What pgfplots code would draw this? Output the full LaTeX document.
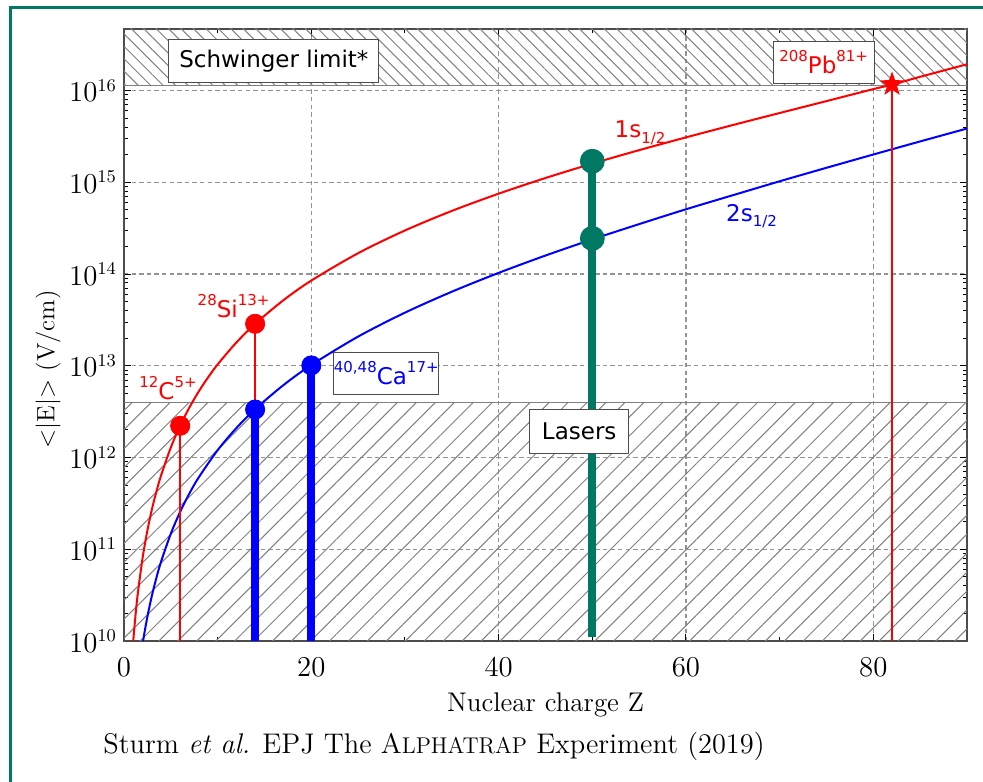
\documentclass[border=0pt]{standalone}
\usepackage{pgfplots}
\pgfplotsset{compat=1.18}
\usepackage{fontspec}
\newfontfamily\dv{DejaVu Sans}
\usetikzlibrary{patterns.meta}
\definecolor{teal2}{RGB}{0,120,100}
\newcommand\sps[1]{{\fontsize{7.5}{8}\selectfont\raisebox{6.2pt}{#1}}}
\newcommand\sbs[1]{{\fontsize{7.5}{8}\selectfont\raisebox{-2.6pt}{#1}}}
\pgfdeclareplotmark{fstar}{%
  \pgfpathmoveto{\pgfpointpolar{90}{\pgfplotmarksize}}%
  \pgfpathlineto{\pgfpointpolar{126}{0.4\pgfplotmarksize}}%
  \pgfpathlineto{\pgfpointpolar{162}{\pgfplotmarksize}}%
  \pgfpathlineto{\pgfpointpolar{198}{0.4\pgfplotmarksize}}%
  \pgfpathlineto{\pgfpointpolar{234}{\pgfplotmarksize}}%
  \pgfpathlineto{\pgfpointpolar{270}{0.4\pgfplotmarksize}}%
  \pgfpathlineto{\pgfpointpolar{306}{\pgfplotmarksize}}%
  \pgfpathlineto{\pgfpointpolar{342}{0.4\pgfplotmarksize}}%
  \pgfpathlineto{\pgfpointpolar{18}{\pgfplotmarksize}}%
  \pgfpathlineto{\pgfpointpolar{54}{0.4\pgfplotmarksize}}%
  \pgfpathclose\pgfusepathqfill}
\begin{document}
\begin{tikzpicture}
\useasboundingbox (-62pt,-70pt) rectangle (429.5pt,320.5pt);
\draw[teal2, line width=1.5pt] (-56.5pt,-100pt) -- (-56.5pt,316.5pt) -- (460pt,316.5pt);
\begin{axis}[
  width=421.5pt, height=306pt, scale only axis,
  xmin=0, xmax=90, ymode=log, ymin=1e10, ymax=4.7e16,
  xtick={0,20,40,60,80}, minor xtick={10,30,50,70},
  ytick={1e10,1e11,1e12,1e13,1e14,1e15,1e16},
  xtick pos=both, ytick pos=both, xticklabel pos=lower, yticklabel pos=left,
  tick align=inside,
  major tick length=3.5pt, minor tick length=2pt,
  every tick/.style={black, line width=0.5pt},
  axis line style={draw=black!70, line width=1pt},
  grid=major,
  major grid style={dash pattern=on 2.2pt off 1.6pt, gray!85, line width=0.65pt},
  ticklabel style={font=\fontsize{13.5}{15}\selectfont},
  xticklabel style={yshift=-5pt},
  xlabel={Nuclear charge Z},
  ylabel={<|E|> (V/cm)},
  xlabel style={font=\fontsize{13.5}{15}\selectfont, yshift=-1pt},
  ylabel style={font=\fontsize{12.5}{14}\selectfont, at={(axis description cs:-0.09,0.444)}, anchor=center},
]
% hatched regions
\addplot[draw=gray, line width=0.5pt, pattern={Lines[angle=45,distance=6.7pt,line width=0.5pt]}, pattern color=gray]
  coordinates {(-5,1e9) (-5,4e12) (95,4e12) (95,1e9) (-5,1e9)};
\addplot[draw=gray, line width=0.5pt, pattern={Lines[angle=-45,distance=4.4pt,line width=0.5pt]}, pattern color=gray]
  coordinates {(-5,1e17) (-5,1.15e16) (95,1.15e16) (95,1e17) (-5,1e17)};
% 1s curve
\addplot[red, line width=1pt, smooth] coordinates {
 (0.5,1.285e9)(0.75,4.337e9)(1,1.028e10)(1.25,2.008e10)(1.5,3.47e10)(2,8.22e10)(2.5,1.606e11)
 (3,2.78e11)(3.5,4.408e11)(4,6.58e11)(5,1.288e12)(6,2.227e12)(7,3.54e12)(8,5.29e12)(9,7.54e12)
 (10,1.036e13)(12,1.797e13)(14,2.866e13)(17,5.17e13)(20,8.50e13)(25,1.690e14)(30,2.99e14)
 (35,4.883e14)(40,7.53e14)(45,1.1155e15)(50,1.601e15)(55,2.245e15)(60,3.094e15)(65,4.215e15)
 (70,5.702e15)(75,7.69e15)(80,1.039e16)(82,1.162e16)(85,1.415e16)(90,1.938e16)};
% 2s curve
\addplot[blue, line width=1pt, smooth] coordinates {
 (1,1.18e9)(1.5,3.98e9)(2,9.44e9)(2.5,1.844e10)(3,3.186e10)(3.5,5.06e10)(4,7.552e10)(5,1.48e11)
 (6,2.567e11)(7,4.09e11)(8,6.12e11)(10,1.2035e12)(12,2.098e12)(14,3.365e12)(17,6.137e12)
 (20,1.0212e13)(25,2.084e13)(30,3.80e13)(35,6.424e13)(40,1.031e14)(45,1.593e14)(50,2.391e14)
 (55,3.507e14)(60,5.09e14)(65,7.24e14)(70,1.0275e15)(75,1.4418e15)(80,2.0117e15)(85,2.794e15)(90,3.862e15)};
% vertical lines
\addplot[red, line width=1pt] coordinates {(6,1e10) (6,2.22e12)};
\addplot[red, line width=1pt] coordinates {(14,3.34e12) (14,2.87e13)};
\addplot[red, line width=1pt] coordinates {(82,1e10) (82,1.17e16)};
\addplot[blue, line width=4pt] coordinates {(14,1e10) (14,3.34e12)};
\addplot[blue, line width=4pt] coordinates {(20,1e10) (20,1.01e13)};
\addplot[teal2, line width=4pt] coordinates {(50,1.1e10) (50,1.7e15)};
% markers
\addplot[only marks, mark=*, mark size=4.8pt, red] coordinates {(6,2.22e12) (14,2.87e13)};
\addplot[only marks, mark=*, mark size=4.8pt, blue] coordinates {(14,3.34e12) (20,1.01e13)};
\addplot[only marks, mark=*, mark size=6pt, teal2] coordinates {(50,2.45e14) (50,1.7e15)};
\addplot[only marks, mark=fstar, mark size=6.5pt, red] coordinates {(82,1.17e16)};
% labels
\node[draw=black!70, fill=white, inner sep=0pt, minimum width=105pt, minimum height=21.5pt,
  font=\dv\fontsize{11.5}{13}\selectfont] at (axis cs:16,2.1e16) {Schwinger limit*};
\node[draw=black!70, fill=white, inner sep=0pt, minimum width=49.5pt, minimum height=22pt,
  font=\dv\fontsize{11.5}{13}\selectfont] at (axis cs:48.6,1.95e12) {Lasers};
\node[draw=black!70, fill=white, inner sep=0pt, minimum width=50.3pt, minimum height=21pt, text=blue,
  font=\dv\fontsize{11.5}{13}\selectfont] at (axis cs:28.0,8.3e12) {\sps{40,48}Ca\sps{17+}};
\node[draw=black!70, fill=white, inner sep=0pt, minimum width=50.5pt, minimum height=20.8pt, text=red,
  font=\dv\fontsize{11.5}{13}\selectfont] at (axis cs:74.7,2.04e16) {\sps{208}Pb\sps{81+}};
\node[text=red, inner sep=0pt, font=\dv\fontsize{11.5}{13}\selectfont] at (axis cs:11.7,4.5e13) {\sps{28}Si\sps{13+}};
\node[text=red, inner sep=0pt, font=\dv\fontsize{11.5}{13}\selectfont] at (axis cs:4.7,5.74e12) {\sps{12}C\sps{5+}};
\node[text=red, inner sep=0pt, font=\dv\fontsize{11.5}{13}\selectfont] at (axis cs:55.1,3.47e15) {1s\sbs{1/2}};
\node[text=blue, inner sep=0pt, font=\dv\fontsize{11.5}{13}\selectfont] at (axis cs:67.0,4.31e14) {2s\sbs{1/2}};
\end{axis}
\node[anchor=base west, inner sep=0pt, font=\fontsize{14.2}{17}\selectfont] at (-10.5pt,-56pt)
  {Sturm \textit{et al.} EPJ The A{\fontsize{11.4}{14}\selectfont LPHATRAP} Experiment (2019)};
\end{tikzpicture}
\end{document}
